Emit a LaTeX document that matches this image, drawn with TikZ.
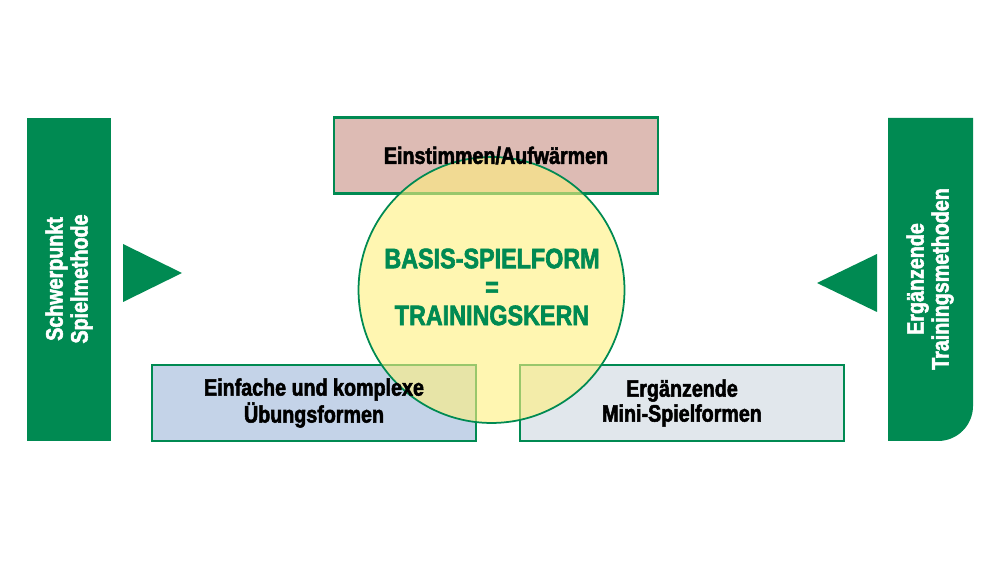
\documentclass[tikz,border=0pt]{standalone}
\usepackage{fontspec}
\setmainfont{Liberation Sans}[FakeStretch=0.83, BoldFeatures={FakeBold=2.2}]
\definecolor{dgreen}{RGB}{0,138,82}
\definecolor{pinkbox}{RGB}{221,187,180}
\definecolor{bluebox}{RGB}{196,211,232}
\definecolor{greybox}{RGB}{225,231,236}
\definecolor{yel}{RGB}{255,240,125}
\tikzset{
  bx/.style={draw=dgreen, line width=1.2pt, minimum width=6.48cm, minimum height=1.52cm, inner sep=0pt},
  boxtext/.style={align=center, font=\fontsize{13.5}{14.2}\selectfont\bfseries, text=black},
  sidetext/.style={align=center, rotate=90, font=\fontsize{13.5}{14.2}\selectfont\bfseries, text=white},
  coretext/.style={align=center, font=\fontsize{16}{16.2}\selectfont\bfseries, text=dgreen},
}
\begin{document}
\begin{tikzpicture}[x=0.02cm,y=-0.02cm]
\useasboundingbox (0,0) rectangle (1000,563);
\fill[white] (0,0) rectangle (1000,563);
% side bars
\fill[dgreen] (27,118) rectangle (111,441);
\fill[dgreen] (888,118) -- (973,118) -- (973,406) arc[start angle=0, end angle=-90, radius=0.7cm] -- (888,441) -- cycle;
% triangles
\fill[dgreen] (123,244) -- (123,302) -- (182,273) -- cycle;
\fill[dgreen] (877,254) -- (877,312) -- (817,283) -- cycle;
% boxes
\node[bx, fill=pinkbox] (top) at (496,155.5) {};
\node[bx, fill=bluebox] (bl) at (314,403) {};
\node[bx, fill=greybox] (br) at (682,403) {};
% circle
\node[circle, draw=dgreen, line width=1pt, fill=yel, fill opacity=0.6, minimum size=5.32cm, inner sep=0pt] (core) at (491.5,290) {};
% texts
\node[boxtext] (toptext) at (top.center) {Einstimmen/Aufwärmen};
\node[boxtext] (bltext) at (bl.center) {Einfache und komplexe\\Übungsformen};
\node[boxtext] (brtext) at (br.center) {Ergänzende\\Mini-Spielformen};
\node[coretext] (coretxt) at (492,287) {BASIS-SPIELFORM\\=\\TRAININGSKERN};
\node[sidetext] (lefttext) at (69,279) {Schwerpunkt\\Spielmethode};
\node[sidetext] (righttext) at (930,279) {Ergänzende\\Trainingsmethoden};
\end{tikzpicture}
\end{document}
